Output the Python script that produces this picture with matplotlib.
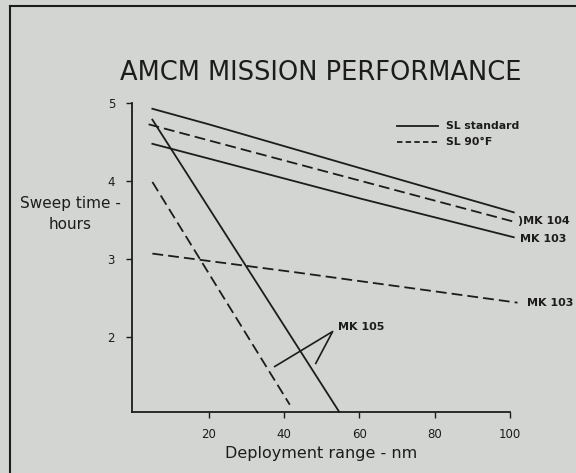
import numpy as np
import matplotlib
matplotlib.use("Agg")
import matplotlib.pyplot as plt
from matplotlib.lines import Line2D

# data (x = deployment range nm, y = sweep time h)
mk104_std_x = [5, 20, 60, 101]
mk104_std_y = [4.93, 4.73, 4.17, 3.60]
mk104_hot_x = [4, 101]
mk104_hot_y = [4.73, 3.48]
mk103_std_x = [5, 20, 60, 101]
mk103_std_y = [4.48, 4.29, 3.78, 3.28]
mk103_hot_x = [5, 43, 102]
mk103_hot_y = [3.07, 2.83, 2.44]
mk105_std_x = [5, 54.6]
mk105_std_y = [4.79, 1.04]
mk105_hot_x = [5, 41.5]
mk105_hot_y = [3.99, 1.13]

xticks = [20, 40, 60, 80, 100]
yticks = [2, 3, 4, 5]

bg = "#d3d5d2"
ink = "#1c1c1c"
lw = 1.3
dash = (0, (6, 2.8))

fig = plt.figure(figsize=(5.76, 4.73), dpi=100, facecolor=bg)
ax = fig.add_axes([0.2286, 0.1296, 0.6568, 0.652])
ax.set_facecolor(bg)

ax.plot(mk104_std_x, mk104_std_y, color=ink, lw=lw, clip_on=False)
ax.plot(mk104_hot_x, mk104_hot_y, color=ink, lw=lw, linestyle=dash, clip_on=False)
ax.plot(mk103_std_x, mk103_std_y, color=ink, lw=lw, clip_on=False)
ax.plot(mk103_hot_x, mk103_hot_y, color=ink, lw=lw, linestyle=dash, clip_on=False)
ax.plot(mk105_std_x, mk105_std_y, color=ink, lw=lw, clip_on=False)
ax.plot(mk105_hot_x, mk105_hot_y, color=ink, lw=lw, linestyle=dash, clip_on=False)

ax.set_xlim(-0.5, 100)
ax.set_ylim(1.04, 5)
ax.set_xticks(xticks)
ax.set_yticks(yticks)
ax.tick_params(direction="out", length=4, width=1, colors=ink, labelsize=8.5, pad=8)
for s in ["top", "right"]:
    ax.spines[s].set_visible(False)
for s in ["left", "bottom"]:
    ax.spines[s].set_color(ink)
    ax.spines[s].set_linewidth(1.3)

# legend drawn by hand like the original
ax.plot([70, 81], [4.71, 4.71], color=ink, lw=lw, clip_on=False)
ax.plot([70, 81], [4.50, 4.50], color=ink, lw=lw, linestyle=(0, (3, 1.8)), clip_on=False)
ax.text(83, 4.71, "SL standard", fontsize=7.8, fontweight="bold", color=ink, va="center")
ax.text(83, 4.50, "SL 90°F", fontsize=7.8, fontweight="bold", color=ink, va="center")

# line labels
ax.text(102, 3.49, ")MK 104", fontsize=8, fontweight="bold", color=ink, va="center", clip_on=False)
ax.text(102.7, 3.26, "MK 103", fontsize=8, fontweight="bold", color=ink, va="center", clip_on=False)
ax.text(104.4, 2.44, "MK 103", fontsize=8, fontweight="bold", color=ink, va="center", clip_on=False)
ax.text(54.3, 2.13, "MK 105", fontsize=8, fontweight="bold", color=ink, va="center")
ax.plot([37.5, 52.9, 48.4], [1.62, 2.07, 1.66], color=ink, lw=1.2)

fig.text(0.557, 0.846, "AMCM MISSION PERFORMANCE", fontsize=18.5, color=ink,
         ha="center", va="center")
fig.text(0.122, 0.569, "Sweep time -", fontsize=11, color=ink, ha="center", va="center")
fig.text(0.122, 0.526, "hours", fontsize=11, color=ink, ha="center", va="center")
ax.set_xlabel("Deployment range - nm", fontsize=11.5, color=ink, labelpad=3)

# outer frame of the scanned page
fig.add_artist(Line2D([10 / 576, 10 / 576], [0, 1 - 6 / 473], color=ink, lw=1.5))
fig.add_artist(Line2D([10 / 576, 1], [1 - 6 / 473, 1 - 6 / 473], color=ink, lw=1.5))

fig.savefig("out.png", dpi=100, facecolor=bg)
